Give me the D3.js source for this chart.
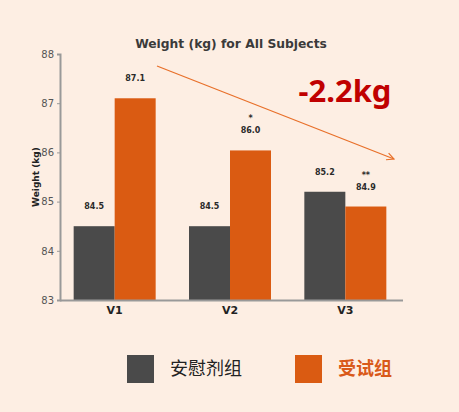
<!DOCTYPE html>
<html>
<head>
<meta charset="utf-8">
<script src="https://cdn.jsdelivr.net/npm/d3@7"></script>
<style>
  html, body { margin: 0; padding: 0; background: #FDEEE3; }
  svg { display: block; }
</style>
</head>
<body>
<svg id="chart" width="459" height="412"></svg>
<script>
// Visits and mean body weight per group
const visits = ["V1", "V2", "V3"];
const placeboWeights = [84.5, 84.5, 85.2];
const treatmentWeights = [87.1, 86.04, 84.9];
const treatmentMarks = ["", "*", "**"];
const groupNames = ["安慰剂组", "受试组"];
const yTicks = [83, 84, 85, 86, 87, 88];
const changeLabel = "-2.2kg";

const colors = { placebo: "#4A4A4A", treatment: "#DA5B12" };

const svg = d3.select("#chart");

const x = d3.scaleBand().domain(visits).range([57, 403]).paddingInner(0).paddingOuter(0);
const y = d3.scaleLinear().domain([83, 88]).range([300, 54]);
const barW = 41;

// Title
svg.append("text")
  .attr("x", 231).attr("y", 48)
  .attr("text-anchor", "middle")
  .attr("font-family", "DejaVu Sans, sans-serif")
  .attr("font-weight", "bold")
  .attr("font-size", 12.3)
  .attr("fill", "#3a3a3a")
  .text("Weight (kg) for All Subjects");

// Y axis
const yAxis = svg.append("g")
  .attr("transform", "translate(60,0)")
  .call(d3.axisLeft(y).tickValues(yTicks).tickSize(3).tickPadding(3).tickFormat(d3.format("d")));
yAxis.select(".domain").attr("stroke", "#999").attr("stroke-width", 2);
yAxis.selectAll(".tick line").attr("stroke", "#999");
yAxis.selectAll(".tick text")
  .attr("font-family", "DejaVu Sans, sans-serif")
  .attr("font-size", 10)
  .attr("fill", "#555");

svg.append("text")
  .attr("transform", "translate(39,177) rotate(-90)")
  .attr("text-anchor", "middle")
  .attr("font-family", "DejaVu Sans, sans-serif")
  .attr("font-weight", "bold")
  .attr("font-size", 9)
  .attr("fill", "#222")
  .text("Weight (kg)");

// Bars
const groups = svg.append("g").selectAll("g")
  .data(visits.map((v, i) => ({ v, p: placeboWeights[i], t: treatmentWeights[i], m: treatmentMarks[i] })))
  .join("g");

groups.append("rect")
  .attr("x", d => x(d.v) + x.bandwidth() / 2 - barW)
  .attr("y", d => y(d.p))
  .attr("width", barW)
  .attr("height", d => y(83) - y(d.p))
  .attr("fill", colors.placebo);

groups.append("rect")
  .attr("x", d => x(d.v) + x.bandwidth() / 2)
  .attr("y", d => y(d.t))
  .attr("width", barW)
  .attr("height", d => y(83) - y(d.t))
  .attr("fill", colors.treatment);

const labelFont = g => g
  .attr("text-anchor", "middle")
  .attr("font-family", "DejaVu Sans, sans-serif")
  .attr("font-weight", "bold")
  .attr("font-size", 8)
  .attr("fill", "#2a2a2a");

groups.append("text")
  .attr("x", d => x(d.v) + x.bandwidth() / 2 - barW / 2)
  .attr("y", d => y(d.p) - 17)
  .call(labelFont)
  .text(d => d.p.toFixed(1));

groups.append("text")
  .attr("x", d => x(d.v) + x.bandwidth() / 2 + barW / 2)
  .attr("y", d => y(d.t) - 17)
  .call(labelFont)
  .text(d => d.t.toFixed(1));

groups.append("text")
  .attr("x", d => x(d.v) + x.bandwidth() / 2 + barW / 2)
  .attr("y", d => y(d.t) - 29)
  .call(labelFont)
  .text(d => d.m);

// X axis
svg.append("line")
  .attr("x1", 60).attr("x2", 403)
  .attr("y1", 300.5).attr("y2", 300.5)
  .attr("stroke", "#999").attr("stroke-width", 2);

svg.append("g").selectAll("text")
  .data(visits)
  .join("text")
  .attr("x", d => x(d) + x.bandwidth() / 2)
  .attr("y", 314)
  .attr("text-anchor", "middle")
  .attr("font-family", "DejaVu Sans, sans-serif")
  .attr("font-weight", "bold")
  .attr("font-size", 11)
  .attr("fill", "#222")
  .text(d => d);

// Trend arrow
svg.append("defs").append("marker")
  .attr("id", "arrow")
  .attr("viewBox", "0 0 10 10")
  .attr("refX", 9).attr("refY", 5)
  .attr("markerWidth", 9).attr("markerHeight", 9)
  .attr("markerUnits", "userSpaceOnUse")
  .attr("orient", "auto")
  .append("path")
  .attr("d", "M1,1 L9,5 L1,9")
  .attr("fill", "none")
  .attr("stroke", "#E8702A")
  .attr("stroke-width", 1.3);

svg.append("line")
  .attr("x1", 157).attr("y1", 66)
  .attr("x2", 394).attr("y2", 159)
  .attr("stroke", "#E8702A")
  .attr("stroke-width", 1.3)
  .attr("marker-end", "url(#arrow)");

svg.append("text")
  .attr("x", 345).attr("y", 102)
  .attr("text-anchor", "middle")
  .attr("font-family", "Noto Sans, sans-serif")
  .attr("font-weight", "bold")
  .attr("font-size", 31)
  .attr("fill", "#C00000")
  .text(changeLabel);

// Legend
const legend = [
  { name: groupNames[0], color: colors.placebo, x: 127, text: "#222", weight: "normal" },
  { name: groupNames[1], color: colors.treatment, x: 295, text: "#D9591A", weight: "bold" }
];
const lg = svg.append("g").selectAll("g").data(legend).join("g");
lg.append("rect")
  .attr("x", d => d.x).attr("y", 355)
  .attr("width", 27).attr("height", 28)
  .attr("fill", d => d.color);
lg.append("text")
  .attr("x", d => d.x + 43).attr("y", 375)
  .attr("font-family", "Noto Sans CJK SC, sans-serif")
  .attr("font-size", 18)
  .attr("font-weight", d => d.weight)
  .attr("fill", d => d.text)
  .text(d => d.name);
</script>
</body>
</html>
